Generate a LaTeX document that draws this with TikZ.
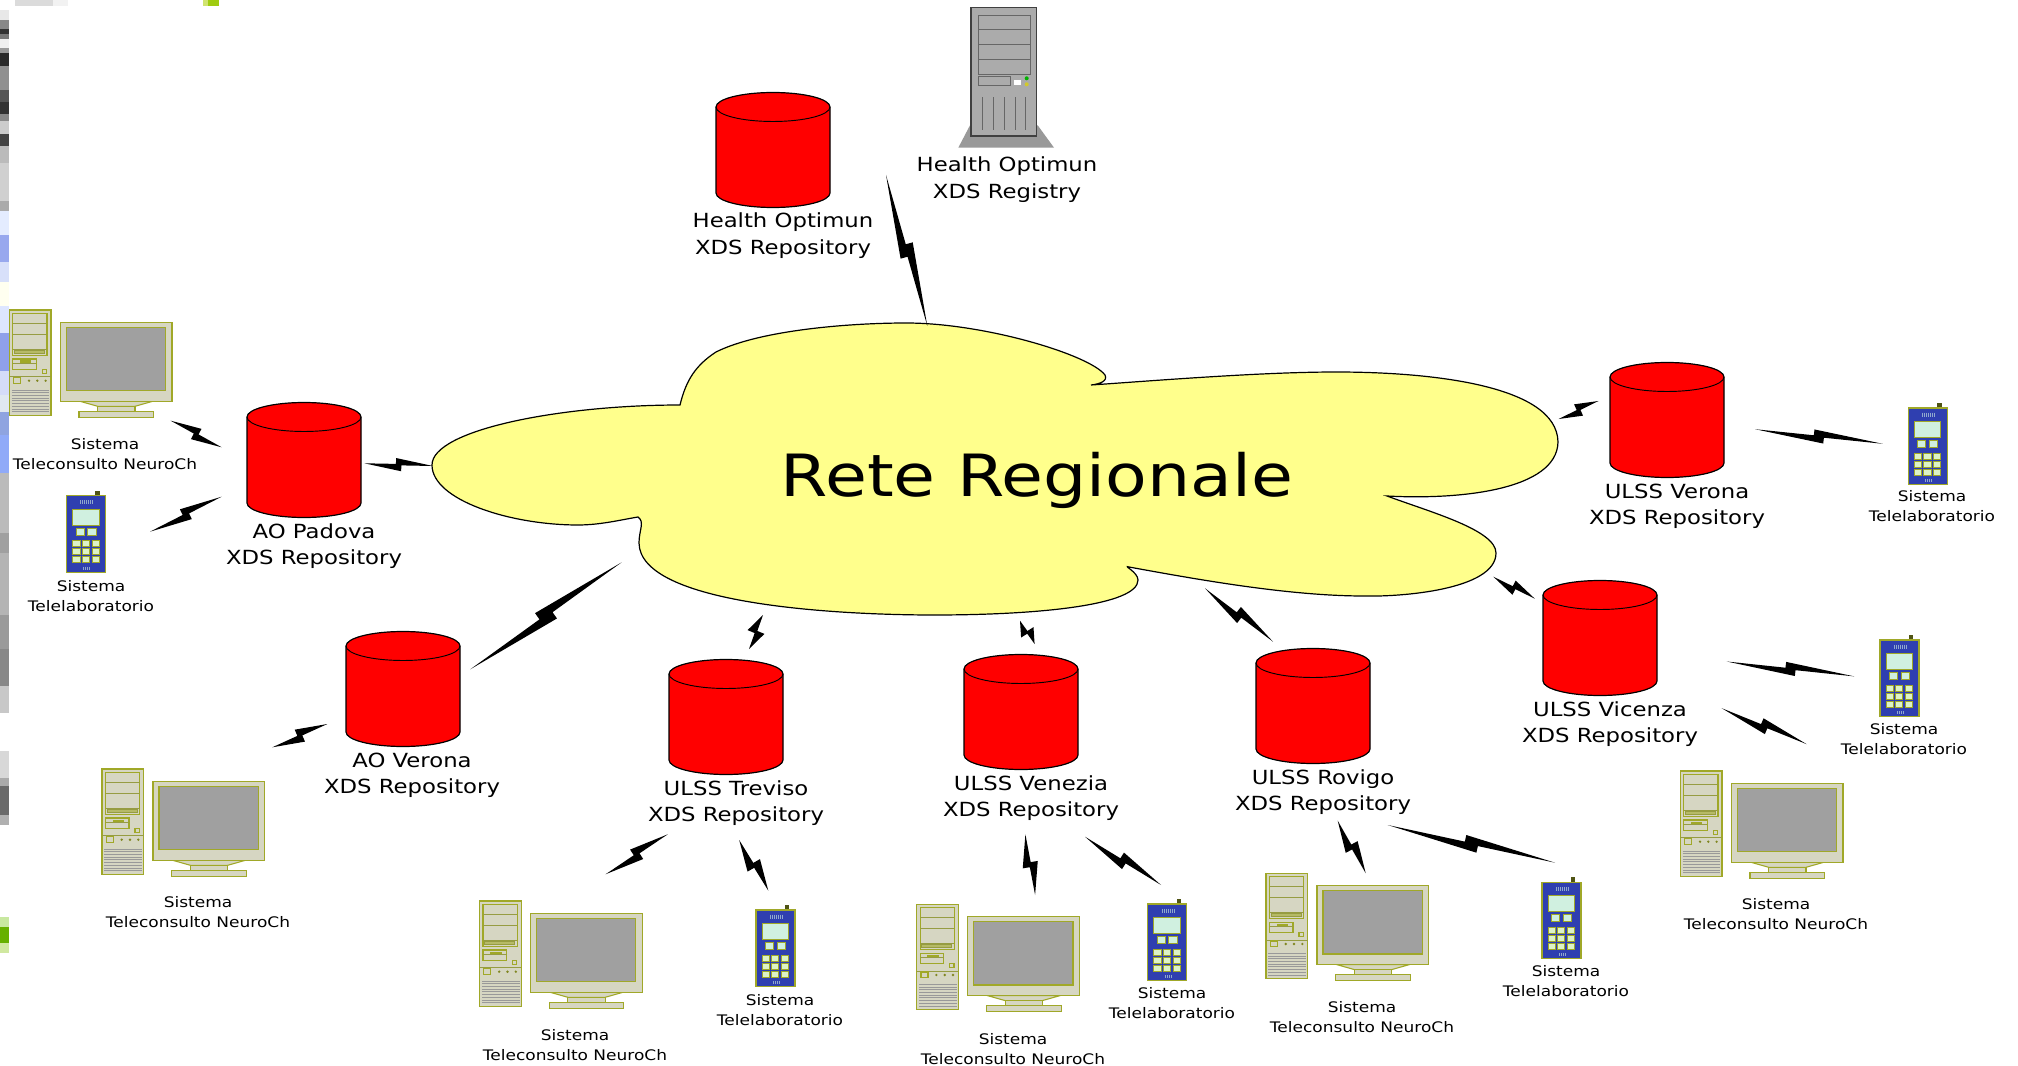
\documentclass[tikz,border=0pt]{standalone}
\usepackage{fontspec}
\setmainfont{DejaVu Sans}[FakeStretch=1.17]
\usetikzlibrary{calc}
\definecolor{cloudfill}{HTML}{FFFF8C}
\definecolor{olive}{HTML}{A0A828}
\definecolor{beige}{HTML}{D6D6C2}
\definecolor{scr}{HTML}{A0A0A0}
\definecolor{phonebody}{HTML}{2F3FB0}
\definecolor{lcd}{HTML}{D0F0E0}
\definecolor{keyc}{HTML}{DDF2C8}
\tikzset{
  repolabel/.style={inner sep=0pt,font=\fontsize{14.6}{20}\selectfont},
  smalllabel/.style={inner sep=0pt,yshift=.75pt,font=\fontsize{10.9}{15}\selectfont},
  biglabel/.style={inner sep=0pt,font=\fontsize{43.7}{50}\selectfont},
  cloudshape/.style={draw=black,fill=cloudfill,line width=.9pt},
  boltfill/.style={fill=black,draw=none},
  cylbody/.style={fill=red,draw=black,line width=.9pt},
  pcpart/.style={fill=beige,draw=olive,line width=.8pt},
  pcline/.style={draw=olive!70!gray,line width=.5pt},
  srvline/.style={draw=black!60,line width=.6pt},
  strip/.style={draw=none}
}
\newcommand{\twolines}[2]{\begin{tabular}{@{}c@{}}#1\\#2\end{tabular}}
% bolt: name, ax, ay, bx, by, half jog width (px)
\newcommand{\bolt}[6]{%
  \coordinate (#1a) at (#2,#3);
  \coordinate (#1b) at (#4,#5);
  \pgfmathsetmacro\bDx{#4-#2}
  \pgfmathsetmacro\bDy{#5-#3}
  \pgfmathsetmacro\bLen{veclen(\bDx,\bDy)}
  \pgfmathsetmacro\bNx{\bDy/\bLen*#6}
  \pgfmathsetmacro\bNy{-\bDx/\bLen*#6}
  \fill[boltfill] (#1a)
    -- ({#2+.46*\bDx+.1*\bNx},{#3+.46*\bDy+.1*\bNy})
    -- ({#2+.46*\bDx+\bNx},{#3+.46*\bDy+\bNy})
    -- (#1b)
    -- ({#2+.54*\bDx-.1*\bNx},{#3+.54*\bDy-.1*\bNy})
    -- ({#2+.54*\bDx-\bNx},{#3+.54*\bDy-\bNy})
    -- cycle;
}
% cylinder: name, centre x, centre y
\newcommand{\dbcyl}[3]{%
  \coordinate (#1) at (#2,#3);
  \begin{scope}[shift={(#1)}]
    \draw[cylbody] (-57,-43) -- (-57,43)
      .. controls (-57,51) and (-31.5,57.5) .. (0,57.5)
      .. controls (31.5,57.5) and (57,51) .. (57,43) -- (57,-43)
      .. controls (57,-51) and (31.5,-57.5) .. (0,-57.5)
      .. controls (-31.5,-57.5) and (-57,-51) .. (-57,-43) -- cycle;
    \draw[black,line width=.7pt] (-57,-43)
      .. controls (-57,-35) and (-31.5,-28.5) .. (0,-28.5)
      .. controls (31.5,-28.5) and (57,-35) .. (57,-43);
  \end{scope}
}
% computer: name, tower top-left x, y
\newcommand{\pcset}[3]{%
  \coordinate (#1) at (#2,#3);
  \begin{scope}[shift={(#1)}]
    \draw[pcpart] (0,0) rectangle (41.7,105.3);
    \draw[pcpart] (3.5,3.3) rectangle (37.7,45.3);
    \foreach \yy in {13.3,24.3,39} \draw[pcline] (3.5,\yy) -- (37.7,\yy);
    \draw[pcline,fill=olive!60!beige] (5,40.5) rectangle (35,43);
    \draw[pcpart] (3.5,49) rectangle (27,59.3);
    \fill[olive] (10.5,50.5) rectangle (22,52.7);
    \draw[pcline] (3.5,53.5) -- (27,53.5);
    \draw[pcpart] (33,59.3) rectangle (37.3,63.3);
    \draw[pcline] (0,66.7) -- (41.7,66.7);
    \draw[pcpart] (4.3,67.7) rectangle (11.3,73.3);
    \foreach \xx in {19.7,28,36.3} \fill[olive!80!black] (\xx,70.7) circle (1.3);
    \foreach \yy in {80,82.7,...,104} \draw[draw=black!40,line width=.5pt] (2.3,\yy) -- (40,\yy);
    \draw[pcpart] (70.7,91.3) -- (143.4,91.3) -- (125.7,96.3) -- (88.4,96.3) -- cycle;
    \draw[pcpart] (88.4,96.3) rectangle (125.7,101.3);
    \draw[pcpart] (69.7,101.3) rectangle (144.4,107.3);
    \draw[pcpart] (51,12.3) rectangle (162.7,91.3);
    \draw[draw=olive,fill=scr,line width=.8pt] (57,17.3) rectangle (156.3,80.7);
  \end{scope}
}
% phone: name, body top-left x, y
\newcommand{\phoneset}[3]{%
  \coordinate (#1) at (#2,#3);
  \begin{scope}[shift={(#1)}]
    \fill[olive!50!black] (28.6,-5) rectangle (33.3,0);
    \draw[draw=olive,fill=phonebody,line width=.8pt] (0,0) rectangle (39,76.6);
    \draw[draw=olive,fill=lcd,line width=.7pt] (6,13.3) rectangle (32.6,29.3);
    \draw[draw=olive,fill=lcd,line width=.7pt] (9.6,32.6) rectangle (17.6,39.3);
    \draw[draw=olive,fill=lcd,line width=.7pt] (21,32.6) rectangle (29.3,39.3);
    \foreach \xx in {6,15.6,25.3} \foreach \yy in {45,53,61}
      \draw[draw=olive,fill=keyc,line width=.7pt] (\xx,\yy) rectangle ++(7.3,6);
    \foreach \xx in {14,16,...,26} \draw[draw=lcd!60!phonebody,line width=.4pt] (\xx,4.5) -- (\xx,8.5);
    \foreach \xx in {17,19,21,23} \draw[draw=lcd!60!phonebody,line width=.4pt] (\xx,71) -- (\xx,74);
  \end{scope}
}
\begin{document}
\begin{tikzpicture}[x=.75pt,y=-.75pt]
\useasboundingbox (0,0) rectangle (2018,1066);
\fill[white] (0,0) rectangle (2018,1066);
% left and top edge remnants
\foreach \ya/\yb/\cc in {10/20/E8E8E8,20/29/888888,29/34/333333,34/39/777777,39/48/F0F0F0,48/53/999999,53/66/2A2A2A,66/90/909090,90/102/555555,102/114/333333,114/121/888888,121/134/CCCCCC,134/146/444444,146/163/BBBBBB,163/201/D0D0D0,201/211/AAAAAA,211/235/E4ECFF,235/262/98A8EE,262/282/D8E0FA,282/306/FFFFF0,306/333/DDE6FF,333/371/8FA0EA,371/395/D5DCF8,395/412/E0E8F0,412/435/8FA4E0,435/473/90AAF8,473/533/BBBBBB,533/553/A0A0A0,553/615/B4B4B4,615/649/9A9A9A,649/686/888888,686/713/C8C8C8,751/778/D8D8D8,778/786/AAAAAA,786/815/6A6A6A,815/825/B0B0B0,917/927/C8E8A0,927/943/66B000,943/953/D0E8A0}{
  \definecolor{stripc}{HTML}{\cc}
  \fill[stripc,strip] (0,\ya) rectangle (9,\yb);
}
\fill[black!14,strip] (15,0) rectangle (53,6);
\fill[black!5,strip] (53,0) rectangle (68,6);
\definecolor{stripc}{HTML}{D0E470}
\fill[stripc,strip] (203,0) rectangle (208,6);
\definecolor{stripc}{HTML}{A0CC10}
\fill[stripc,strip] (208,0) rectangle (219,6);

% cloud
\draw[cloudshape] (680,405)
  .. controls (686,380) and (696,365) .. (716,352)
  .. controls (760,330) and (850,323) .. (906,323)
  .. controls (985,323) and (1090,355) .. (1105,375)
  .. controls (1108,381) and (1100,384) .. (1091,385)
  .. controls (1150,381) and (1260,372) .. (1336,372)
  .. controls (1430,372) and (1557,385) .. (1558,442)
  .. controls (1557,490) and (1460,500) .. (1387,496)
  .. controls (1430,512) and (1496,530) .. (1496,553)
  .. controls (1496,590) and (1400,597) .. (1364,596)
  .. controls (1290,596) and (1200,580) .. (1129,567)
  .. controls (1122,565) and (1138,572) .. (1138,580)
  .. controls (1138,605) and (1040,615) .. (934,615)
  .. controls (840,615) and (640,605) .. (639,543)
  .. controls (639,530) and (645,522) .. (638,517)
  .. controls (620,520) and (600,525) .. (578,525)
  .. controls (510,525) and (432,500) .. (432,465)
  .. controls (432,430) and (560,405) .. (680,405) -- cycle;
\node[biglabel] (cloudtext) at (1037,480) {Rete Regionale};

% server
\coordinate (srv) at (971,7.3);
\begin{scope}[shift={(srv)}]
  \fill[black!40] (-1,118) -- (66.7,118) -- (83,140.4) -- (-12.7,140.4) -- cycle;
  \fill[black!33] (0,0) rectangle (65.7,128.7);
  \draw[black!75,line width=.9pt] (0,128.7) -- (0,0) -- (65.7,0) -- (65.7,128.7) -- cycle;
  \draw[srvline] (7,7.7) rectangle (59,66.7);
  \foreach \yy in {22,37,52} \draw[srvline] (7,\yy) -- (59,\yy);
  \draw[srvline] (7,69.4) rectangle (39.7,78.4);
  \fill[white] (43,72.7) rectangle (50.3,78);
  \fill[green!70!black] (55.7,71) circle (2);
  \fill[yellow!80!black] (55.7,77) circle (2);
  \foreach \xx in {11,22,33,44,54.7} \draw[srvline] (\xx,90) -- (\xx,122.7);
\end{scope}

% cylinders
\dbcyl{hrepo}{773}{150}
\dbcyl{padova}{304}{460}
\dbcyl{aoverona}{403}{689}
\dbcyl{treviso}{726}{717}
\dbcyl{venezia}{1021}{712}
\dbcyl{rovigo}{1313}{706}
\dbcyl{vicenza}{1600}{638}
\dbcyl{ulssverona}{1667}{420}

% computers
\pcset{pcpadova}{9.3}{310}
\pcset{pcaoverona}{102}{769}
\pcset{pctreviso}{479.5}{901}
\pcset{pcvenezia}{916.7}{904.3}
\pcset{pcrovigo}{1266}{873.3}
\pcset{pcvicenza}{1680.3}{771}

% phones
\phoneset{phpadova}{66.7}{495.7}
\phoneset{phtreviso}{756}{910}
\phoneset{phvenezia}{1147.9}{904}
\phoneset{phrovigo}{1542}{882.3}
\phoneset{phulssverona}{1908.3}{408}
\phoneset{phvicenza}{1880}{640}

% bolts
\bolt{bhealth}{886}{175}{927.3}{326}{8}
\bolt{bpadcloud}{364.3}{463.3}{433}{466}{6.5}
\bolt{bpadpc}{170.7}{420.7}{221.7}{447.3}{-7}
\bolt{bpadph}{150}{531.7}{221.7}{496.7}{7}
\bolt{bavcloud}{470.3}{669.3}{621.7}{562.3}{8.5}
\bolt{btrcloud}{749}{649}{763}{615}{8.5}
\bolt{bvecloud}{1020}{620.7}{1034.6}{644}{8}
\bolt{brocloud}{1205}{588.3}{1273}{641.7}{7.5}
\bolt{bvicloud}{1493.3}{576.7}{1534.8}{598.7}{7}
\bolt{bvrcloud}{1558.6}{419}{1598.5}{401}{7}
\bolt{bvrph}{1755}{429.2}{1882.7}{443.8}{6.5}
\bolt{bviph}{1726.7}{661.5}{1854.3}{676.4}{6.5}
\bolt{bvipc}{1721.7}{708.2}{1806.7}{744.2}{7}
\bolt{bavpc}{272.3}{747.3}{327.4}{724}{7.5}
\bolt{btrpc}{605.5}{874.3}{667.8}{834.3}{7.5}
\bolt{btrph}{739.2}{840}{768.3}{890.7}{8.5}
\bolt{bvepc}{1025.4}{834.3}{1035.1}{895}{8}
\bolt{bveph}{1085}{836.7}{1161}{885}{7.5}
\bolt{bropc}{1337.7}{820.7}{1365.7}{873.3}{8}
\bolt{broph}{1387.7}{825}{1555}{862.7}{7.5}

% labels
\node[repolabel] (lhrepo) at (783,236) {\twolines{Health Optimun}{XDS Repository}};
\node[repolabel] (lhreg) at (1007,180) {\twolines{Health Optimun}{XDS Registry}};
\node[repolabel] (lpadova) at (314,546) {\twolines{AO Padova}{XDS Repository}};
\node[repolabel] (laoverona) at (412,775) {\twolines{AO Verona}{XDS Repository}};
\node[repolabel] (ltreviso) at (736,803) {\twolines{ULSS Treviso}{XDS Repository}};
\node[repolabel] (lvenezia) at (1031,798) {\twolines{ULSS Venezia}{XDS Repository}};
\node[repolabel] (lrovigo) at (1323,792) {\twolines{ULSS Rovigo}{XDS Repository}};
\node[repolabel] (lvicenza) at (1610,724) {\twolines{ULSS Vicenza}{XDS Repository}};
\node[repolabel] (lulssverona) at (1677,506) {\twolines{ULSS Verona}{XDS Repository}};

\node[smalllabel] (spadpc) at (105,456) {\twolines{Sistema}{Teleconsulto NeuroCh}};
\node[smalllabel] (spadph) at (91,598) {\twolines{Sistema}{Telelaboratorio}};
\node[smalllabel] (savpc) at (198,914) {\twolines{Sistema}{Teleconsulto NeuroCh}};
\node[smalllabel] (strpc) at (575,1047) {\twolines{Sistema}{Teleconsulto NeuroCh}};
\node[smalllabel] (strph) at (780,1012) {\twolines{Sistema}{Telelaboratorio}};
\node[smalllabel] (svepc) at (1013,1051) {\twolines{Sistema}{Teleconsulto NeuroCh}};
\node[smalllabel] (sveph) at (1172,1005) {\twolines{Sistema}{Telelaboratorio}};
\node[smalllabel] (sropc) at (1362,1019) {\twolines{Sistema}{Teleconsulto NeuroCh}};
\node[smalllabel] (sroph) at (1566,983) {\twolines{Sistema}{Telelaboratorio}};
\node[smalllabel] (svrph) at (1932,508) {\twolines{Sistema}{Telelaboratorio}};
\node[smalllabel] (sviph) at (1904,741) {\twolines{Sistema}{Telelaboratorio}};
\node[smalllabel] (svipc) at (1776,916) {\twolines{Sistema}{Teleconsulto NeuroCh}};
\end{tikzpicture}
\end{document}
